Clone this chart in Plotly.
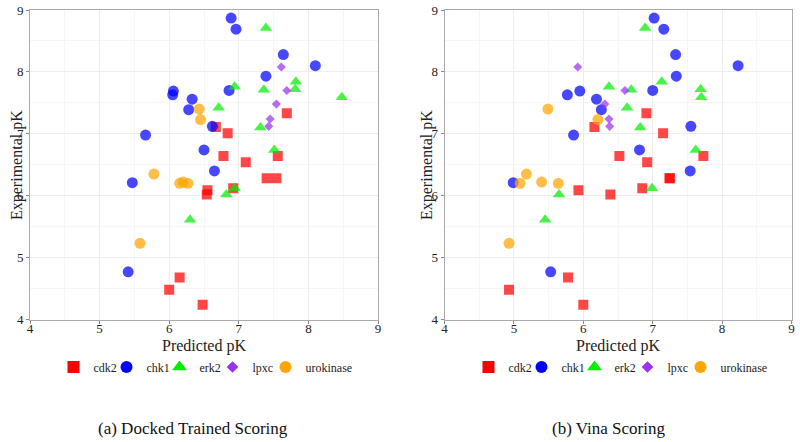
import plotly.graph_objects as go

# ---------------- data ----------------
targets = ["cdk2", "chk1", "erk2", "lpxc", "urokinase"]

cdk2_exp = [7.33, 7.11, 7.01, 6.64, 6.64, 6.54, 6.28, 6.28, 6.09, 6.02, 6.12, 4.68, 4.48, 4.24]
cdk2_dt = [7.69, 6.67, 6.84, 6.78, 7.56, 7.10, 7.40, 7.54, 6.55, 6.54, 6.92, 6.15, 6.00, 6.48]
cdk2_vina = [6.91, 6.16, 7.15, 6.52, 7.73, 6.92, 7.24, 7.25, 5.93, 6.39, 6.85, 5.78, 4.93, 6.00]

chk1_exp = [8.87, 8.69, 8.28, 8.10, 7.93, 7.69, 7.63, 7.70, 7.56, 7.39, 7.12, 6.98, 6.74, 6.40, 6.21, 4.77]
chk1_dt = [6.89, 6.96, 7.64, 8.10, 7.39, 6.06, 6.05, 6.86, 6.33, 6.28, 6.62, 5.66, 6.50, 6.65, 5.47, 5.41]
chk1_vina = [7.02, 7.16, 7.33, 8.23, 7.34, 5.95, 5.77, 7.00, 6.19, 6.26, 7.55, 5.86, 6.81, 7.54, 4.99, 5.53]

erk2_exp = [8.71, 7.76, 7.71, 7.84, 7.72, 7.59, 7.42, 7.10, 6.74, 6.12, 6.02, 5.61]
erk2_dt = [7.39, 6.94, 7.36, 7.82, 7.81, 8.48, 6.71, 7.31, 7.51, 6.94, 6.82, 6.30]
erk2_vina = [6.89, 6.37, 6.69, 7.13, 7.69, 7.70, 6.63, 6.82, 7.62, 6.99, 5.65, 5.45]

lpxc_exp = [8.08, 7.70, 7.48, 7.24, 7.12]
lpxc_dt = [7.61, 7.69, 7.54, 7.45, 7.43]
lpxc_vina = [5.92, 6.60, 6.31, 6.37, 6.38]

uro_exp = [7.40, 7.23, 6.35, 6.20, 6.22, 6.20, 5.23]
uro_dt = [6.43, 6.45, 5.78, 6.15, 6.20, 6.27, 5.58]
uro_vina = [5.49, 6.21, 5.18, 5.09, 5.40, 5.64, 4.93]

axis_ticks = [4, 5, 6, 7, 8, 9]
x_title = "Predicted pK"
y_title = "Experimental pK"
captions = ["(a) Docked Trained Scoring", "(b) Vina Scoring"]

# ---------------- style ----------------
styles = {
    "cdk2": dict(symbol="square", color="#ff0000", size=10, lsize=12),
    "chk1": dict(symbol="circle", color="#0000ff", size=11, lsize=12),
    "erk2": dict(symbol="triangle-up", color="#00ee00", size=11, lsize=13),
    "lpxc": dict(symbol="diamond", color="#9933ee", size=7, lsize=9),
    "urokinase": dict(symbol="circle", color="#ffa500", size=11, lsize=12),
}

data_dt = {
    "cdk2": (cdk2_dt, cdk2_exp),
    "chk1": (chk1_dt, chk1_exp),
    "erk2": (erk2_dt, erk2_exp),
    "lpxc": (lpxc_dt, lpxc_exp),
    "urokinase": (uro_dt, uro_exp),
}
data_vina = {
    "cdk2": (cdk2_vina, cdk2_exp),
    "chk1": (chk1_vina, chk1_exp),
    "erk2": (erk2_vina, erk2_exp),
    "lpxc": (lpxc_vina, lpxc_exp),
    "urokinase": (uro_vina, uro_exp),
}

FONT = "Liberation Serif"
fig = go.Figure()

for panel, (data, xa, ya, leg) in enumerate([
    (data_dt, "x", "y", "legend"),
    (data_vina, "x2", "y2", "legend2"),
]):
    for t in targets:
        xs, ys = data[t]
        st = styles[t]
        fig.add_trace(go.Scatter(
            x=xs, y=ys, mode="markers", name=t, xaxis=xa, yaxis=ya,
            marker=dict(symbol=st["symbol"], color=st["color"], size=st["size"],
                        opacity=0.72, line=dict(width=0)),
            showlegend=False, hoverinfo="x+y+name",
        ))
    # legend-only entries (full colour)
    for t in targets:
        st = styles[t]
        extra = {"legendwidth": 60} if t == "urokinase" else {}
        fig.add_trace(go.Scatter(
            x=[None], y=[None], mode="markers", name=t, xaxis=xa, yaxis=ya,
            marker=dict(symbol=st["symbol"], color=st["color"], size=st["lsize"],
                        line=dict(width=0)),
            legend=leg, showlegend=True, **extra,
        ))

def axis_cfg(domain, anchor, title, is_x):
    cfg = dict(
        domain=domain, anchor=anchor, range=[4, 9], tickvals=axis_ticks,
        automargin=False, ticklabeloverflow="allow",
        showgrid=True, gridcolor="#ededed", gridwidth=1,
        minor=dict(dtick=0.5, showgrid=True, gridcolor="#f6f6f6", gridwidth=1),
        showline=True, linecolor="#aaaaaa", linewidth=1, mirror=True,
        ticks="outside", ticklen=3, tickcolor="#888888",
        zeroline=False, tickfont=dict(size=13, color="#222"),
    )
    if is_x:
        cfg["ticklabelstandoff"] = -6
        cfg["title"] = dict(text=title, font=dict(size=16, color="#222"), standoff=4)
    return cfg

W, H = 800, 442


def px_x(p):
    return p / W


def px_y(p):
    return 1 - p / H


ydom = [px_y(319.5), px_y(10)]
legend_common = dict(orientation="h", xanchor="center", yanchor="middle",
                     font=dict(size=12, family=FONT, color="#222"),
                     itemwidth=30, entrywidthmode="pixels", entrywidth=8,
                     tracegroupgap=0, bgcolor="rgba(0,0,0,0)")

annotations = []
for cap, cx in zip(captions, [193, 608]):
    annotations.append(dict(text=cap, x=px_x(cx), y=px_y(428), xref="paper", yref="paper",
                            showarrow=False, font=dict(size=17, family=FONT, color="#111"),
                            xanchor="center", yanchor="middle"))
for tx in [17, 427]:
    annotations.append(dict(text=y_title, x=px_x(tx), y=px_y(165), xref="paper", yref="paper",
                            showarrow=False, textangle=-90,
                            font=dict(size=16, family=FONT, color="#222"),
                            xanchor="center", yanchor="middle"))

fig.update_layout(
    width=W, height=H,
    margin=dict(l=0, r=0, t=0, b=0),
    paper_bgcolor="white", plot_bgcolor="white",
    font=dict(family=FONT, color="#222"),
    xaxis=axis_cfg([px_x(30), px_x(378)], "y", x_title, True),
    yaxis=axis_cfg(ydom, "x", y_title, False),
    xaxis2=axis_cfg([px_x(444.5), px_x(791.5)], "y2", x_title, True),
    yaxis2=axis_cfg(ydom, "x2", y_title, False),
    legend=dict(x=px_x(212), y=px_y(367), **legend_common),
    legend2=dict(x=px_x(627), y=px_y(367), **legend_common),
    showlegend=True,
    annotations=annotations,
)

# remove the default 8px page margin so the figure fills the window exactly
fig.write_html("out.html", config={"displayModeBar": False},
               post_script="document.body.style.margin='0';")
